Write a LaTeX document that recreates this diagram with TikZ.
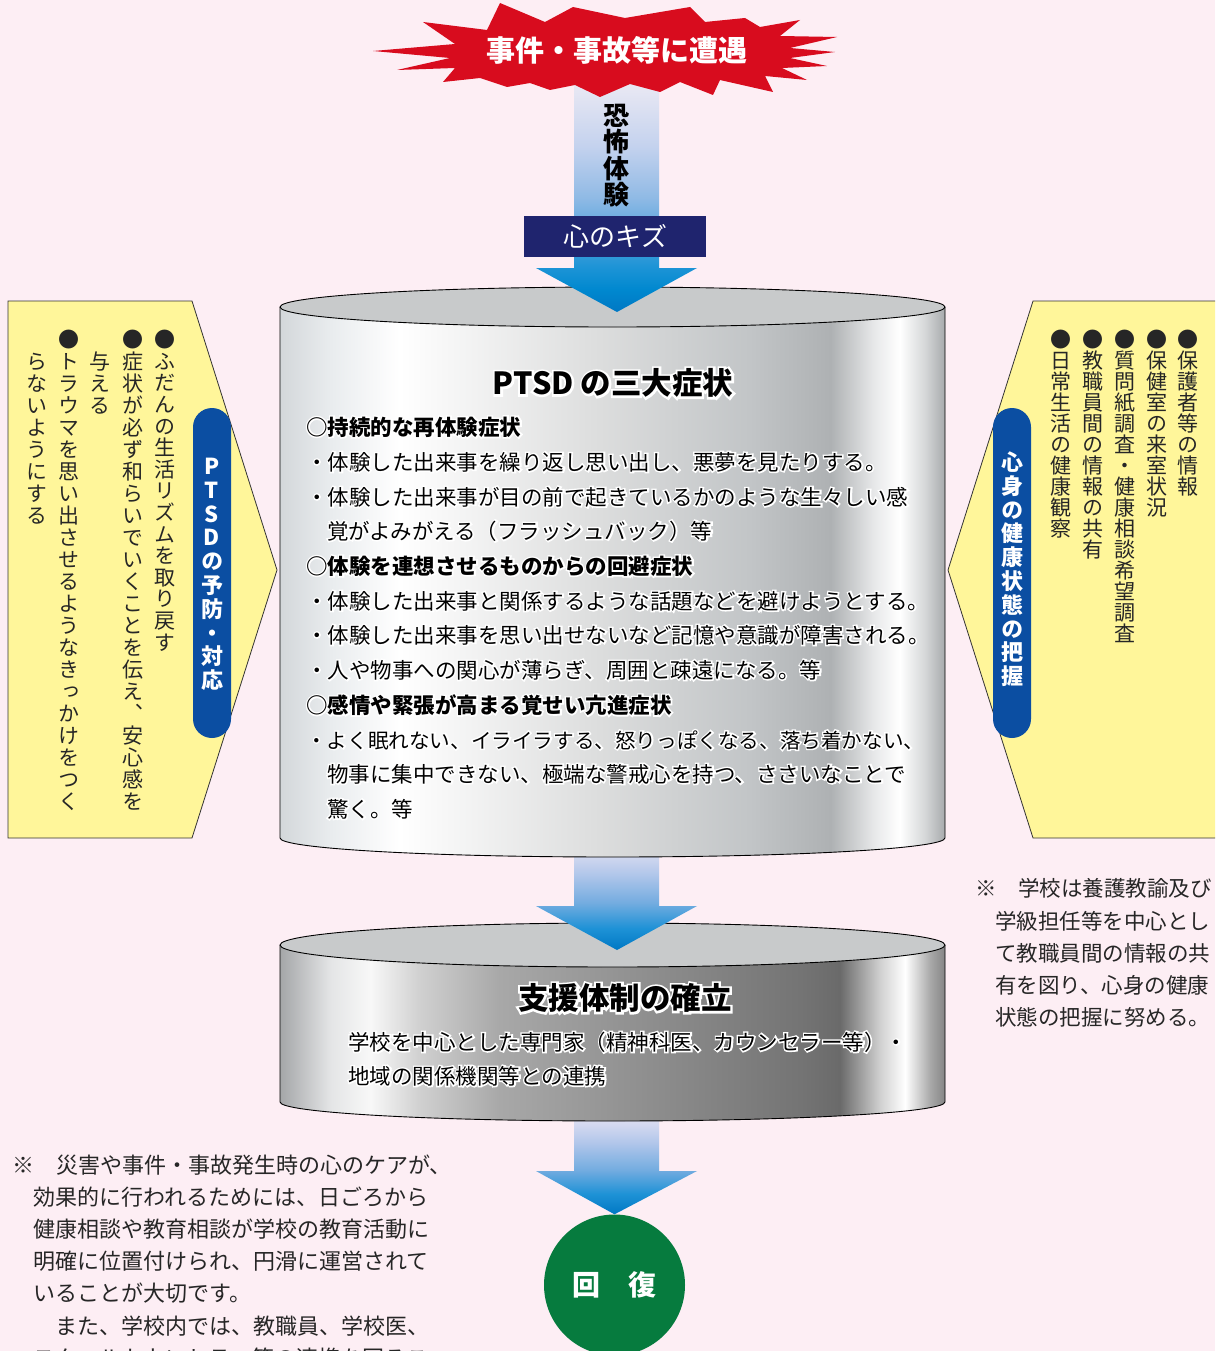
\documentclass[tikz,border=0pt]{standalone}
\usepackage{fontspec}
\setmainfont{Noto Sans CJK JP}
\newfontfamily\jpv[RawFeature=+vert]{Noto Sans CJK JP}
\newfontfamily\jphalo[FakeBold=14]{Noto Sans CJK JP}

\definecolor{bgpink}{HTML}{FDEEF4}
\definecolor{starred}{HTML}{D80C1E}
\definecolor{navybox}{HTML}{1F246E}
\definecolor{pillblue}{HTML}{0B4EA2}
\definecolor{padyellow}{HTML}{FFF69A}
\definecolor{capgray}{HTML}{C8CACB}
\definecolor{healgreen}{HTML}{067B3E}
\definecolor{notegray}{HTML}{262626}
% cylinder 1
\definecolor{ca0}{HTML}{D3D7DA}
\definecolor{ca1}{HTML}{E9ECEE}
\definecolor{ca2}{HTML}{FFFFFF}
\definecolor{ca3}{HTML}{F6F6F6}
\definecolor{ca4}{HTML}{DCDDDD}
\definecolor{ca5}{HTML}{C2C5C7}
\definecolor{ca6}{HTML}{AEB1B3}
\definecolor{ca7}{HTML}{E8E9EA}
\definecolor{ca8}{HTML}{FFFFFF}
\definecolor{ca9}{HTML}{D5D7D8}
\definecolor{ca10}{HTML}{A7AAAC}
% cylinder 2
\definecolor{cb0}{HTML}{A4A6A8}
\definecolor{cb1}{HTML}{E4E5E6}
\definecolor{cb2}{HTML}{F8F8F8}
\definecolor{cb3}{HTML}{D0D0D0}
\definecolor{cb4}{HTML}{A8A8A8}
\definecolor{cb5}{HTML}{8E8E8E}
\definecolor{cb6}{HTML}{747474}
\definecolor{cb7}{HTML}{6A6A6A}
\definecolor{cb8}{HTML}{D0D0D0}
\definecolor{cb9}{HTML}{FFFFFF}
\definecolor{cb10}{HTML}{A8A8A8}
\definecolor{cb11}{HTML}{858585}
% arrows
\definecolor{ar0}{HTML}{0078C4}
\definecolor{ar1}{HTML}{0088CF}
\definecolor{ar2}{HTML}{1D94D6}
\definecolor{ar3}{HTML}{4FA2DC}
\definecolor{ar4}{HTML}{90BAE5}
\definecolor{ar5}{HTML}{C4D2EE}
\definecolor{ar6}{HTML}{ECEAF4}
\definecolor{br1}{HTML}{1E92D6}
\definecolor{br2}{HTML}{74ACE0}
\definecolor{br3}{HTML}{B0C6EA}
\definecolor{br4}{HTML}{DCDDF1}

\pgfdeclarehorizontalshading{cylA}{100bp}{color(0bp)=(ca0); color(25bp)=(ca0); color(28.8bp)=(ca1); color(34bp)=(ca2); color(37.8bp)=(ca3); color(49bp)=(ca4); color(60.3bp)=(ca5); color(66.4bp)=(ca6); color(69.7bp)=(ca7); color(71.6bp)=(ca8); color(73.5bp)=(ca9); color(75bp)=(ca10); color(100bp)=(ca10)}
\pgfdeclarehorizontalshading{cylB}{100bp}{color(0bp)=(cb0); color(25bp)=(cb0); color(28.8bp)=(cb1); color(31.8bp)=(cb2); color(35.5bp)=(cb3); color(41.5bp)=(cb4); color(52.8bp)=(cb5); color(64.1bp)=(cb6); color(67.1bp)=(cb7); color(70.1bp)=(cb8); color(72bp)=(cb9); color(73.9bp)=(cb10); color(75bp)=(cb11); color(100bp)=(cb11)}
\pgfdeclareverticalshading{arrowLong}{100bp}{color(0bp)=(ar0); color(25bp)=(ar0); color(29.8bp)=(ar1); color(34.7bp)=(ar2); color(40.9bp)=(ar3); color(49.7bp)=(ar4); color(60.7bp)=(ar5); color(75bp)=(ar6); color(100bp)=(ar6)}
\pgfdeclareverticalshading{arrowShort}{100bp}{color(0bp)=(ar0); color(25bp)=(ar0); color(35.8bp)=(br1); color(48.7bp)=(br2); color(62.6bp)=(br3); color(75bp)=(br4); color(100bp)=(br4)}

\ExplSyntaxOn
\NewDocumentCommand{\vstack}{mm}
 {
  \vbox
   {
    \baselineskip=#1\relax
    \lineskiplimit=-\maxdimen
    \lineskip=0pt\relax
    \tl_map_inline:nn {#2}
     { \hbox_to_wd:nn {1em} { \hss ##1 \hss \rule[-0.12em]{0pt}{1em} } }
   }
 }
\ExplSyntaxOff
% white halo behind text: one emboldened white copy, then the text
\newcommand{\halo}[1]{\leavevmode\rlap{\color{white}\jphalo #1}#1}

\tikzset{
  bodytext/.style={font=\fontsize{21.5}{21.5}\selectfont, anchor=west, inner sep=0pt},
  headtext/.style={font=\bfseries\fontsize{21.5}{21.5}\selectfont, anchor=west, inner sep=0pt},
  titletext/.style={font=\bfseries\fontsize{30.5}{30.5}\selectfont, inner sep=0pt},
  vcol/.style={font=\jpv\fontsize{21}{21}\selectfont, anchor=north, inner sep=0pt, text=notegray},
  pilltext/.style={font=\jpv\bfseries\fontsize{22}{22}\selectfont, anchor=north, inner sep=0pt, text=white},
  notetext/.style={font=\fontsize{21.5}{21.5}\selectfont, anchor=west, inner sep=0pt, text=notegray},
  notetextB/.style={font=\fontsize{22}{22}\selectfont, anchor=west, inner sep=0pt, text=notegray},
  pill/.style={fill=pillblue, rounded corners=19pt},
  pad/.style={draw=black!80, line width=0.8pt, fill=padyellow},
  cylline/.style={draw=black, line width=0.9pt},
}

\begin{document}
\begin{tikzpicture}[x=1pt,y=-1pt]
\clip (0,0) rectangle (1215,1351);
\fill[bgpink] (0,0) rectangle (1215,1351);

% ---------- side pads ----------
\draw[pad] (8,301) -- (192,301) -- (277,570) -- (192,838) -- (8,838) -- cycle;
\draw[pad] (1230,301) -- (1033,301) -- (948,570) -- (1033,838) -- (1230,838);
\fill[pill] (193,408) rectangle (231,738);
\fill[pill] (993,408) rectangle (1031,738);
\node[pilltext] (pL) at (212,455) {\vstack{23.8pt}{PTSDの予防・対応}};
\node[pilltext] (pR) at (1012,451) {\vstack{23.8pt}{心身の健康状態の把握}};

% left columns
\node[vcol] (L1) at (165,329) {\vstack{21.6pt}{●ふだんの生活リズムを取り戻す}};
\node[vcol] (L2) at (133,329) {\vstack{22pt}{●症状が必ず和らいでいくことを伝え、安心感を}};
\node[vcol] (L2b) at (100,351) {\vstack{22pt}{与える}};
\node[vcol] (L3) at (69,329) {\vstack{22pt}{●トラウマを思い出させるようなきっかけをつく}};
\node[vcol] (L3b) at (37,351) {\vstack{22pt}{らないようにする}};
% right columns
\node[vcol] (R1) at (1188,329) {\vstack{21pt}{●保護者等の情報}};
\node[vcol] (R2) at (1157,329) {\vstack{21pt}{●保健室の来室状況}};
\node[vcol] (R3) at (1125,329) {\vstack{21pt}{●質問紙調査・健康相談希望調査}};
\node[vcol] (R4) at (1093,329) {\vstack{21pt}{●教職員間の情報の共有}};
\node[vcol] (R5) at (1061,329) {\vstack{21pt}{●日常生活の健康観察}};

% ---------- arrow 3 and recovery ----------
\node[circle, fill=healgreen, minimum size=141pt, inner sep=0pt] (heal) at (614.5,1285) {};
\node[font=\bfseries\fontsize{28}{28}\selectfont, text=white] (healtxt) at (heal.center) {回\hspace{1em}復};
\coordinate (a3tip) at (heal.north);
\shade[shading=arrowShort] (574,1120) -- (659,1120) -- (659,1171) -- (697,1171) -- (a3tip) -- (536,1171) -- (574,1171) -- cycle;

% ---------- cylinder 2 ----------
\shade[shading=cylB] (280,945) -- (280,1102) arc[start angle=180,end angle=0,x radius=332.5,y radius=19] -- (945,945) -- cycle;
\draw[cylline] (280,945) -- (280,1102) arc[start angle=180,end angle=0,x radius=332.5,y radius=19] -- (945,945);
\draw[cylline, fill=capgray] (612.5,945) ellipse[x radius=332.5, y radius=22];
\node[titletext] (c2title) at (625,998) {\halo{支援体制の確立}};
\node[bodytext] (c2a) at (348,1042) {\halo{学校を中心とした専門家（精神科医、カウンセラー等）・}};
\node[bodytext] (c2b) at (348,1076) {\halo{地域の関係機関等との連携}};

% arrow 2
\shade[shading=arrowShort] (574,850) -- (659,850) -- (659,906) -- (697,906) -- (617,950) -- (536,906) -- (574,906) -- cycle;

% ---------- cylinder 1 ----------
\shade[shading=cylA] (280,307) -- (280,838) arc[start angle=180,end angle=0,x radius=332.5,y radius=19] -- (945,307) -- cycle;
\draw[cylline] (280,307) -- (280,838) arc[start angle=180,end angle=0,x radius=332.5,y radius=19] -- (945,307);
\draw[cylline, fill=capgray] (612.5,307) ellipse[x radius=332.5, y radius=20];

\node[titletext] (c1title) at (613,383) {\halo{PTSD の三大症状}};
\node[headtext] (h1) at (306,427) {\halo{○持続的な再体験症状}};
\node[bodytext] (l1) at (306,462) {\halo{・体験した出来事を繰り返し思い出し、悪夢を見たりする。}};
\node[bodytext] (l2) at (306,497) {\halo{・体験した出来事が目の前で起きているかのような生々しい感}};
\node[bodytext] (l3) at (327,531) {\halo{覚がよみがえる（フラッシュバック）等}};
\node[headtext] (h2) at (306,566) {\halo{○体験を連想させるものからの回避症状}};
\node[bodytext] (l4) at (306,601) {\halo{・体験した出来事と関係するような話題などを避けようとする。}};
\node[bodytext] (l5) at (306,635) {\halo{・体験した出来事を思い出せないなど記憶や意識が障害される。}};
\node[bodytext] (l6) at (306,670) {\halo{・人や物事への関心が薄らぎ、周囲と疎遠になる。等}};
\node[headtext] (h3) at (306,705) {\halo{○感情や緊張が高まる覚せい亢進症状}};
\node[bodytext, font=\fontsize{20.6}{20.6}\selectfont] (l7) at (306,740) {\halo{・よく眠れない、イライラする、怒りっぽくなる、落ち着かない、}};
\node[bodytext] (l8) at (327,774) {\halo{物事に集中できない、極端な警戒心を持つ、ささいなことで}};
\node[bodytext] (l9) at (327,809) {\halo{驚く。等}};

% ---------- arrow 1 ----------
\shade[shading=arrowLong] (574,80) -- (659,80) -- (659,268) -- (697,268) -- (617,312) -- (536,268) -- (574,268) -- cycle;
\node[font=\bfseries\fontsize{26}{26}\selectfont, anchor=north, inner sep=0pt] (fear) at (616,102) {\vstack{26.5pt}{恐怖体験}};
\node[fill=navybox, minimum width=182pt, minimum height=41pt, inner sep=0pt, text=white, font=\fontsize{26}{26}\selectfont] (wound) at (615,236.5) {心のキズ};

% ---------- star ----------
\fill[starred] (373,51) -- (455,44) -- (423,22) -- (487,30) -- (500,3) -- (545,22) -- (573,7) -- (625,18) -- (690,7) -- (705,22) -- (745,18) -- (760,27) -- (800,20) -- (780,36) -- (837,37) -- (790,48) -- (835,52) -- (790,58) -- (827,66) -- (782,68) -- (807,80) -- (765,76) -- (773,92) -- (720,80) -- (713,95) -- (680,82) -- (660,92) -- (630,84) -- (600,97) -- (575,85) -- (550,90) -- (530,83) -- (507,87) -- (480,78) -- (443,82) -- (455,68) -- (397,70) -- (450,58) -- cycle;
\node[font=\bfseries\fontsize{29}{29}\selectfont, text=white, inner sep=0pt] (event) at (617,50) {事件・事故等に遭遇};

% ---------- notes ----------
\node[notetext] (n1) at (975,888) {※　学校は養護教諭及び};
\node[notetext] (n2) at (995,921) {学級担任等を中心とし};
\node[notetext] (n3) at (995,953) {て教職員間の情報の共};
\node[notetext] (n4) at (995,985) {有を図り、心身の健康};
\node[notetext] (n5) at (995,1017) {状態の把握に努める。};

\node[notetextB] (m1) at (12,1165) {※　災害や事件・事故発生時の心のケアが、};
\node[notetextB] (m2) at (33,1197) {効果的に行われるためには、日ごろから};
\node[notetextB] (m3) at (33,1229) {健康相談や教育相談が学校の教育活動に};
\node[notetextB] (m4) at (33,1261) {明確に位置付けられ、円滑に運営されて};
\node[notetextB] (m5) at (33,1293) {いることが大切です。};
\node[notetextB] (m6) at (33,1326) {　また、学校内では、教職員、学校医、};
\node[notetextB] (m7) at (33,1358) {スクールカウンセラー等の連携を図るこ};
\end{tikzpicture}
\end{document}
